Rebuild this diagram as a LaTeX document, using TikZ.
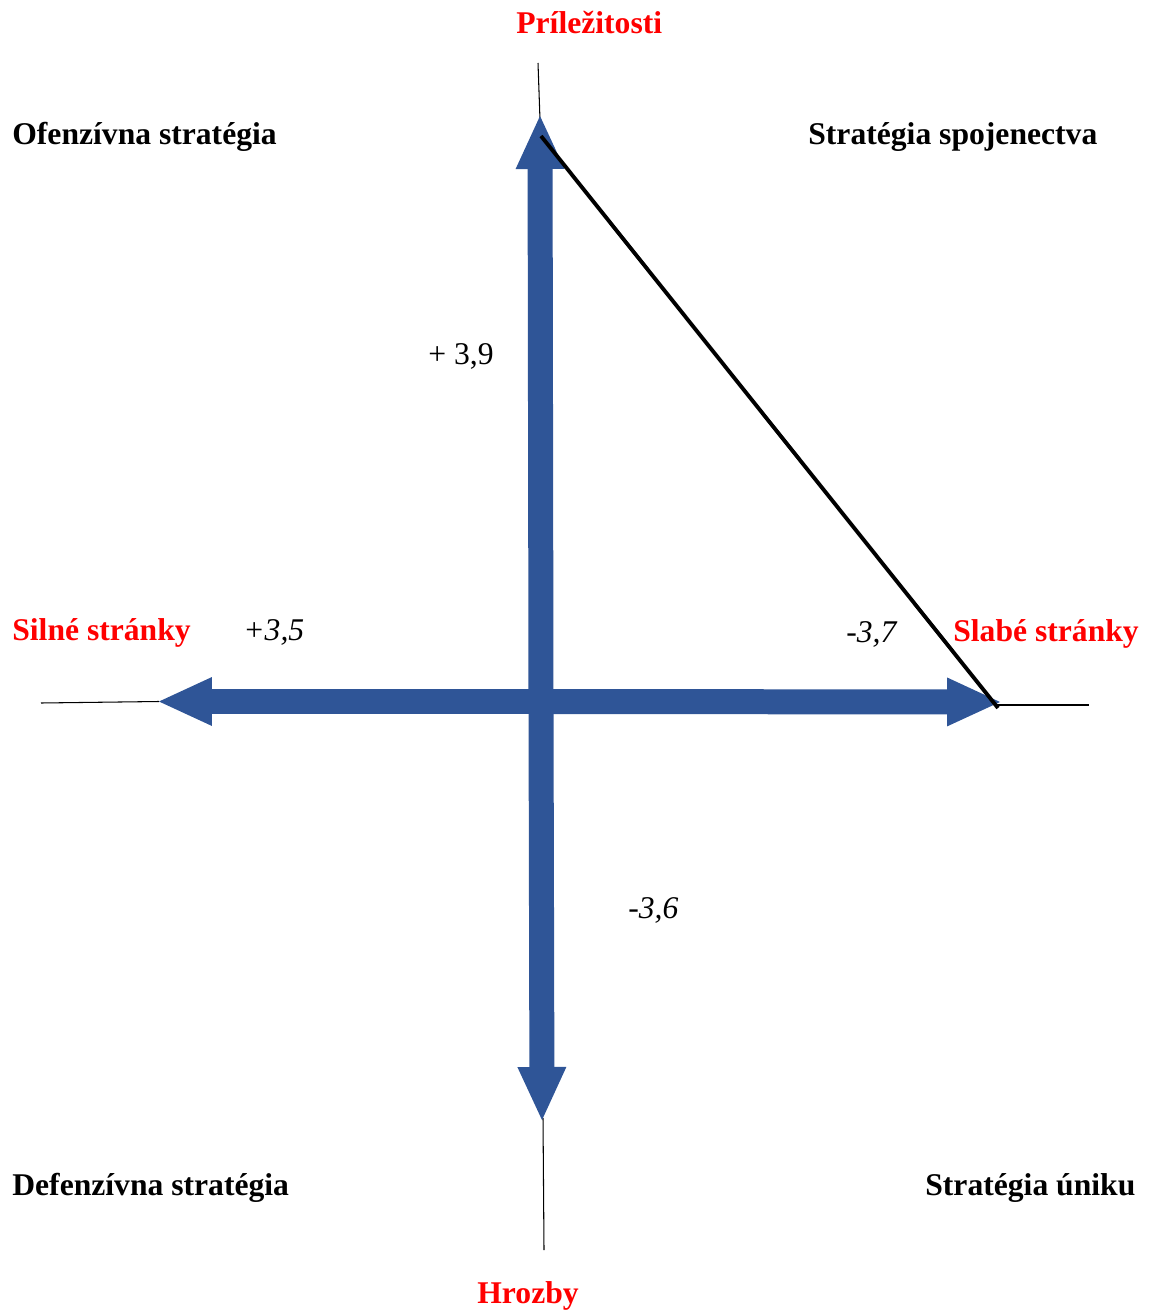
\documentclass[tikz,border=0pt]{standalone}
\usepackage{fontspec}
\setmainfont{Liberation Serif}
\usetikzlibrary{arrows.meta}
\definecolor{axisblue}{RGB}{47,85,151}
\definecolor{polered}{RGB}{255,0,0}

\begin{document}
\begin{tikzpicture}[
    x=0.02cm, y=-0.02cm,
    font=\fontsize{18}{22}\selectfont,
    quad/.style={anchor=base west, inner sep=0pt, font=\fontsize{18}{22}\selectfont\bfseries},
    pole/.style={quad, text=polered},
    val/.style={anchor=base west, inner sep=0pt},
    axisarr/.style={draw=axisblue, line width=0.5cm,
                    -{Triangle[length=1.06cm, width=0.98cm, line width=0pt]}},
    guide/.style={draw=black, line width=0.6pt},
    edgeln/.style={draw=black, line width=2.2pt},
  ]
    \useasboundingbox (0,0) rectangle (1149,1310);

    % axes and guide lines
    \coordinate (c)   at (541,701.5);
    \coordinate (up)  at (540,116);
    \coordinate (dn)  at (542,1120);
    \coordinate (lt)  at (159,701.5);
    \coordinate (rt)  at (1000,702);
    \coordinate (gup) at (538,63);
    \coordinate (gdn) at (544,1250);
    \coordinate (glt) at (41,703);
    \coordinate (grt) at (1089,705);
    \coordinate (d1)  at (541,136);
    \coordinate (d2)  at (998,708);

    \draw[guide] (gup) -- (540,120);
    \draw[guide] (543,1118) -- (gdn);
    \draw[guide] (glt) -- (lt);
    \draw[guide] (997,705) -- (grt);

    \draw[axisarr] (c) -- (up);
    \draw[axisarr] (c) -- (dn);
    \draw[axisarr] (c) -- (lt);
    \draw[axisarr] (c) -- (rt);

    \draw[edgeln] (d1) -- (d2);

    % labels
    \node[pole] (pril)  at (516,34)   {Príležitosti};
    \node[pole] (hroz)  at (477,1303) {Hrozby};
    \node[pole] (siln)  at (12,640)   {Silné stránky};
    \node[pole] (slab)  at (953,641)  {Slabé stránky};
    \node[quad] (ofen)  at (12,145)   {Ofenzívna stratégia};
    \node[quad] (spoj)  at (808,145)  {Stratégia spojenectva};
    \node[quad] (defen) at (12,1195)  {Defenzívna stratégia};
    \node[quad] (unik)  at (925,1195) {Stratégia úniku};

    \node[val] (vo) at (428,365) {+ 3,9};
    \node[val] (vs) at (243,640) {\itshape +3,5};
    \node[val] (vw) at (846,642) {\itshape -3,7};
    \node[val] (vt) at (628,918) {\itshape -3,6};
  \end{tikzpicture}
\end{document}
